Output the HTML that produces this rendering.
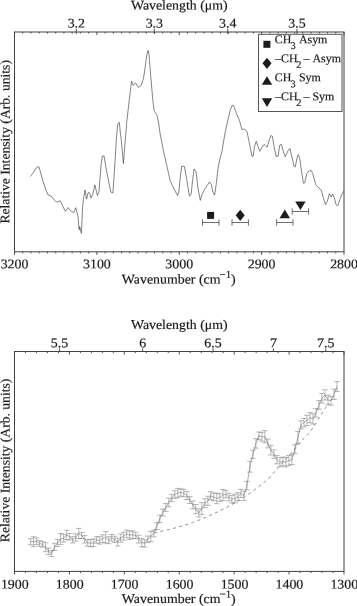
<!DOCTYPE html>
<html lang="en"><head><meta charset="utf-8"><title>Spectra</title>
<style>
html,body{margin:0;padding:0;background:#fff;}
body{width:357px;height:606px;overflow:hidden;font-family:"Liberation Serif",serif;}
svg{display:block;}
svg text{font-family:"Liberation Serif","Liberation Sans",serif;stroke:#1a1a1a;stroke-width:0.18px;}
</style></head><body>
<svg width="357" height="606" viewBox="0 0 357 606" font-size="13.2" fill="#1a1a1a">
<rect width="357" height="606" fill="#fff"/>
<rect x="14.5" y="32.0" width="329.5" height="219.8" fill="none" stroke="#404040" stroke-width="1"/>
<path d="M14.50 251.8v3.0M14.50 32.0v3.0M22.74 251.8v1.6M22.74 32.0v1.6M30.98 251.8v1.6M30.98 32.0v1.6M39.21 251.8v1.6M39.21 32.0v1.6M47.45 251.8v1.6M47.45 32.0v1.6M55.69 251.8v1.6M55.69 32.0v1.6M63.92 251.8v1.6M63.92 32.0v1.6M72.16 251.8v1.6M72.16 32.0v1.6M80.40 251.8v1.6M80.40 32.0v1.6M88.64 251.8v1.6M88.64 32.0v1.6M96.88 251.8v3.0M96.88 32.0v3.0M105.11 251.8v1.6M105.11 32.0v1.6M113.35 251.8v1.6M113.35 32.0v1.6M121.59 251.8v1.6M121.59 32.0v1.6M129.82 251.8v1.6M129.82 32.0v1.6M138.06 251.8v1.6M138.06 32.0v1.6M146.30 251.8v1.6M146.30 32.0v1.6M154.54 251.8v1.6M154.54 32.0v1.6M162.78 251.8v1.6M162.78 32.0v1.6M171.01 251.8v1.6M171.01 32.0v1.6M179.25 251.8v3.0M179.25 32.0v3.0M187.49 251.8v1.6M187.49 32.0v1.6M195.72 251.8v1.6M195.72 32.0v1.6M203.96 251.8v1.6M203.96 32.0v1.6M212.20 251.8v1.6M212.20 32.0v1.6M220.44 251.8v1.6M220.44 32.0v1.6M228.68 251.8v1.6M228.68 32.0v1.6M236.91 251.8v1.6M236.91 32.0v1.6M245.15 251.8v1.6M245.15 32.0v1.6M253.39 251.8v1.6M253.39 32.0v1.6M261.62 251.8v3.0M261.62 32.0v3.0M269.86 251.8v1.6M269.86 32.0v1.6M278.10 251.8v1.6M278.10 32.0v1.6M286.34 251.8v1.6M286.34 32.0v1.6M294.57 251.8v1.6M294.57 32.0v1.6M302.81 251.8v1.6M302.81 32.0v1.6M311.05 251.8v1.6M311.05 32.0v1.6M319.29 251.8v1.6M319.29 32.0v1.6M327.52 251.8v1.6M327.52 32.0v1.6M335.76 251.8v1.6M335.76 32.0v1.6M344.00 251.8v3.0M344.00 32.0v3.0M76.28 28.8v5.2M154.29 28.8v5.2M227.71 28.8v5.2M296.93 28.8v5.2" stroke="#404040" stroke-width="0.9" fill="none"/>
<path d="M30.1 176.6 L32.6 173.6 L36.0 168.2 L37.6 166.9 L39.0 166.9 L40.2 171.1 L42.7 180.3 L46.1 190.4 L48.2 195.1 L51.1 196.0 L53.6 199.2 L56.6 202.2 L60.3 200.8 L62.9 206.4 L65.4 211.4 L68.2 207.6 L70.4 210.6 L73.8 212.6 L75.8 207.7 L78.0 216.5 L79.2 229.9 L79.7 226.6 L81.4 233.3 L82.6 207.2 L83.4 199.7 L85.1 189.9 L86.5 199.2 L88.2 192.4 L89.8 193.4 L91.0 198.0 L92.7 194.6 L94.9 185.0 L97.4 195.5 L98.9 192.1 L101.1 165.2 L102.4 156.0 L104.1 156.0 L106.1 168.6 L110.8 192.1 L112.9 192.9 L114.5 170.3 L116.3 140.0 L117.6 124.9 L119.3 122.4 L120.5 134.1 L121.3 140.0 L123.4 163.5 L125.3 140.0 L126.9 120.7 L129.4 98.8 L131.6 81.2 L133.3 85.4 L135.6 82.9 L138.3 87.4 L141.2 85.4 L143.4 78.7 L145.0 68.6 L146.7 55.1 L148.1 50.4 L149.1 55.1 L150.4 71.9 L151.8 88.7 L153.4 105.5 L154.1 110.6 L157.1 115.6 L158.8 124.0 L160.1 133.7 L163.4 150.5 L166.8 165.6 L170.2 180.8 L174.3 189.5 L177.6 195.7 L178.8 192.0 L180.5 175.2 L181.8 166.0 L184.4 166.5 L186.9 180.3 L189.4 196.2 L191.1 194.5 L192.8 178.6 L194.1 168.8 L196.1 171.8 L197.8 187.0 L200.3 200.4 L202.0 194.5 L204.5 189.5 L207.1 185.6 L209.6 181.9 L211.3 184.5 L212.9 192.0 L214.6 195.0 L216.3 183.6 L218.0 168.5 L220.0 158.4 L221.8 152.2 L225.5 130.3 L230.2 110.2 L232.4 105.1 L233.5 105.5 L236.1 112.7 L239.4 120.3 L241.9 129.5 L244.5 129.0 L247.0 131.7 L249.5 143.8 L251.2 152.2 L252.0 156.4 L253.2 155.9 L254.5 146.3 L256.2 141.3 L257.9 146.3 L259.9 151.3 L262.1 147.0 L264.2 144.5 L267.1 147.3 L269.2 140.3 L270.9 135.6 L272.3 136.1 L274.3 147.9 L276.0 156.3 L278.0 156.3 L279.8 145.0 L281.5 144.5 L283.5 152.1 L285.2 156.8 L287.7 151.3 L289.9 148.4 L291.9 157.1 L294.1 166.4 L295.3 166.9 L297.0 158.0 L298.3 154.6 L299.8 158.8 L301.7 172.3 L303.4 183.2 L304.7 182.7 L306.7 173.9 L308.7 171.1 L311.3 170.6 L312.9 173.9 L315.6 184.2 L318.0 187.2 L321.4 190.3 L323.6 198.7 L325.6 204.6 L327.3 201.3 L329.4 193.7 L331.1 197.1 L332.6 194.0 L334.3 197.9 L336.0 204.6 L337.8 205.8 L339.9 199.6 L342.0 194.0 L343.8 191.2" fill="none" stroke="#303030" stroke-width="0.6" stroke-linejoin="round"/>
<text transform="translate(14.5 268.2) rotate(0.03) scale(1.051 1)" text-anchor="middle">3200</text>
<text transform="translate(96.9 268.2) rotate(0.03) scale(1.051 1)" text-anchor="middle">3100</text>
<text transform="translate(179.2 268.2) rotate(0.03) scale(1.051 1)" text-anchor="middle">3000</text>
<text transform="translate(261.6 268.2) rotate(0.03) scale(1.051 1)" text-anchor="middle">2900</text>
<text transform="translate(344.0 268.2) rotate(0.03) scale(1.051 1)" text-anchor="middle">2800</text>
<text transform="translate(76.3 27.5) rotate(0.03) scale(1.051 1)" text-anchor="middle">3.2</text>
<text transform="translate(154.3 27.5) rotate(0.03) scale(1.051 1)" text-anchor="middle">3.3</text>
<text transform="translate(227.7 27.5) rotate(0.03) scale(1.051 1)" text-anchor="middle">3.4</text>
<text transform="translate(296.9 27.5) rotate(0.03) scale(1.051 1)" text-anchor="middle">3.5</text>
<text transform="translate(179.3 9.5) rotate(0.03) scale(1.051 1)" text-anchor="middle">Wavelength (μm)</text>
<text transform="translate(178.8 283.5) rotate(0.03) scale(1.051 1)" text-anchor="middle">Wavenumber (cm<tspan font-size="10.4" dy="-5.7" dx="-0.9">−1</tspan><tspan dy="5.7">)</tspan></text>
<text transform="translate(9.4 141.8) rotate(-89.97) scale(1.034 1)" text-anchor="middle">Relative Intensity (Arb. units)</text>
<rect x="258.5" y="34.3" width="83.5" height="77.2" fill="#fff" stroke="#555" stroke-width="1"/>
<rect x="263.4" y="40.8" width="7.0" height="7.0" fill="#1c1c1c"/>
<path d="M267.0 57.7L271.5 63.3L267.0 68.9L262.5 63.3Z" fill="#1c1c1c"/>
<path d="M267.0 76.2L272.2 84.8L261.8 84.8Z" fill="#1c1c1c"/>
<path d="M261.8 98.3L272.2 98.3L267.0 106.9Z" fill="#1c1c1c"/>
<g font-size="11.9">
<text transform="translate(0 43.1) rotate(0.03) scale(1.004 1)"><tspan x="273.6">CH</tspan><tspan x="289.3" dy="5.8" font-size="10.3">3</tspan><tspan x="297.7" dy="-5.8">Asym</tspan></text>
<text transform="translate(0 62.0) rotate(0.03) scale(1.004 1)"><tspan x="274.0">–CH</tspan><tspan x="295.2" dy="5.8" font-size="10.3">2</tspan><tspan x="302.3" dy="-5.8">–</tspan><tspan x="311.2">Asym</tspan></text>
<text transform="translate(0 81.2) rotate(0.03) scale(1.004 1)"><tspan x="273.6">CH</tspan><tspan x="289.3" dy="5.8" font-size="10.3">3</tspan><tspan x="297.7" dy="-5.8">Sym</tspan></text>
<text transform="translate(0 100.0) rotate(0.03) scale(1.004 1)"><tspan x="274.0">–CH</tspan><tspan x="295.2" dy="5.8" font-size="10.3">2</tspan><tspan x="302.3" dy="-5.8">–</tspan><tspan x="311.2">Sym</tspan></text>
</g>
<path d="M202.5 222.5H218.9M202.5 219.3V225.7M218.9 219.3V225.7" stroke="#555" stroke-width="0.85" fill="none"/>
<rect x="207.1" y="211.9" width="7.0" height="7.0" fill="#1c1c1c"/>
<path d="M232.0 222.5H248.4M232.0 219.3V225.7M248.4 219.3V225.7" stroke="#555" stroke-width="0.85" fill="none"/>
<path d="M240.2 209.7L244.7 215.3L240.2 220.9L235.7 215.3Z" fill="#1c1c1c"/>
<path d="M276.6 222.5H293.0M276.6 219.3V225.7M293.0 219.3V225.7" stroke="#555" stroke-width="0.85" fill="none"/>
<path d="M284.8 209.6L290.0 218.2L279.6 218.2Z" fill="#1c1c1c"/>
<path d="M292.2 211.5H308.6M292.2 208.3V214.7M308.6 208.3V214.7" stroke="#555" stroke-width="0.85" fill="none"/>
<path d="M295.2 201.4L305.6 201.4L300.4 210.0Z" fill="#1c1c1c"/>
<rect x="14.5" y="351.5" width="329.5" height="219.9" fill="none" stroke="#404040" stroke-width="1"/>
<path d="M14.50 571.4v3.0M14.50 351.5v3.0M25.48 571.4v1.6M25.48 351.5v1.6M36.47 571.4v1.6M36.47 351.5v1.6M47.45 571.4v1.6M47.45 351.5v1.6M58.43 571.4v1.6M58.43 351.5v1.6M69.42 571.4v3.0M69.42 351.5v3.0M80.40 571.4v1.6M80.40 351.5v1.6M91.38 571.4v1.6M91.38 351.5v1.6M102.37 571.4v1.6M102.37 351.5v1.6M113.35 571.4v1.6M113.35 351.5v1.6M124.33 571.4v3.0M124.33 351.5v3.0M135.32 571.4v1.6M135.32 351.5v1.6M146.30 571.4v1.6M146.30 351.5v1.6M157.28 571.4v1.6M157.28 351.5v1.6M168.27 571.4v1.6M168.27 351.5v1.6M179.25 571.4v3.0M179.25 351.5v3.0M190.23 571.4v1.6M190.23 351.5v1.6M201.22 571.4v1.6M201.22 351.5v1.6M212.20 571.4v1.6M212.20 351.5v1.6M223.18 571.4v1.6M223.18 351.5v1.6M234.17 571.4v3.0M234.17 351.5v3.0M245.15 571.4v1.6M245.15 351.5v1.6M256.13 571.4v1.6M256.13 351.5v1.6M267.12 571.4v1.6M267.12 351.5v1.6M278.10 571.4v1.6M278.10 351.5v1.6M289.08 571.4v3.0M289.08 351.5v3.0M300.07 571.4v1.6M300.07 351.5v1.6M311.05 571.4v1.6M311.05 351.5v1.6M322.03 571.4v1.6M322.03 351.5v1.6M333.02 571.4v1.6M333.02 351.5v1.6M344.00 571.4v3.0M344.00 351.5v3.0M59.43 348.3v3.2M142.64 348.3v3.2M213.04 348.3v3.2M273.39 348.3v3.2M325.69 348.3v3.2" stroke="#404040" stroke-width="0.9" fill="none"/>
<path d="M30.6 538.6V544.8M27.8 538.6h5.6M27.8 544.8h5.6M33.6 536.7V546.7M30.8 536.7h5.6M30.8 546.7h5.6M36.6 538.0V544.6M33.8 538.0h5.6M33.8 544.6h5.6M39.6 540.6V546.2M36.8 540.6h5.6M36.8 546.2h5.6M42.6 541.6V547.2M39.8 541.6h5.6M39.8 547.2h5.6M45.6 542.8V551.7M42.8 542.8h5.6M42.8 551.7h5.6M48.6 548.0V554.5M45.8 548.0h5.6M45.8 554.5h5.6M51.6 550.7V556.6M48.8 550.7h5.6M48.8 556.6h5.6M54.6 543.2V550.3M51.8 543.2h5.6M51.8 550.3h5.6M57.6 539.6V546.5M54.8 539.6h5.6M54.8 546.5h5.6M60.6 533.5V544.5M57.8 533.5h5.6M57.8 544.5h5.6M63.6 534.4V542.0M60.8 534.4h5.6M60.8 542.0h5.6M66.6 530.3V539.6M63.8 530.3h5.6M63.8 539.6h5.6M69.7 533.5V539.9M66.9 533.5h5.6M66.9 539.9h5.6M72.7 536.7V543.0M69.9 536.7h5.6M69.9 543.0h5.6M75.7 533.8V541.1M72.9 533.8h5.6M72.9 541.1h5.6M78.7 528.4V538.7M75.9 528.4h5.6M75.9 538.7h5.6M81.7 532.5V538.5M78.9 532.5h5.6M78.9 538.5h5.6M84.7 535.6V543.0M81.9 535.6h5.6M81.9 543.0h5.6M87.7 539.4V546.1M84.9 539.4h5.6M84.9 546.1h5.6M90.7 539.7V546.7M87.9 539.7h5.6M87.9 546.7h5.6M93.7 538.9V546.7M90.9 538.9h5.6M90.9 546.7h5.6M96.7 536.7V543.3M93.9 536.7h5.6M93.9 543.3h5.6M99.7 536.8V544.1M96.9 536.8h5.6M96.9 544.1h5.6M102.7 534.8V542.5M99.9 534.8h5.6M99.9 542.5h5.6M105.7 531.6V543.1M102.9 531.6h5.6M102.9 543.1h5.6M108.7 536.7V543.7M105.9 536.7h5.6M105.9 543.7h5.6M111.7 534.5V541.0M108.9 534.5h5.6M108.9 541.0h5.6M114.7 536.2V542.5M111.9 536.2h5.6M111.9 542.5h5.6M117.7 538.1V546.0M114.9 538.1h5.6M114.9 546.0h5.6M120.7 534.0V542.2M117.9 534.0h5.6M117.9 542.2h5.6M123.7 532.2V540.1M120.9 532.2h5.6M120.9 540.1h5.6M126.7 530.1V537.7M123.9 530.1h5.6M123.9 537.7h5.6M129.7 531.1V539.4M126.9 531.1h5.6M126.9 539.4h5.6M132.7 530.9V538.4M129.9 530.9h5.6M129.9 538.4h5.6M135.7 532.2V538.8M132.9 532.2h5.6M132.9 538.8h5.6M138.7 535.1V543.0M135.9 535.1h5.6M135.9 543.0h5.6M141.7 538.4V546.7M138.9 538.4h5.6M138.9 546.7h5.6M144.7 539.7V547.0M141.9 539.7h5.6M141.9 547.0h5.6M147.8 536.0V542.6M145.0 536.0h5.6M145.0 542.6h5.6M150.8 531.4V541.6M148.0 531.4h5.6M148.0 541.6h5.6M153.8 530.2V536.9M151.0 530.2h5.6M151.0 536.9h5.6M156.8 522.7V529.6M154.0 522.7h5.6M154.0 529.6h5.6M159.8 515.2V522.7M157.0 515.2h5.6M157.0 522.7h5.6M162.8 509.1V515.9M160.0 509.1h5.6M160.0 515.9h5.6M165.8 503.4V511.3M163.0 503.4h5.6M163.0 511.3h5.6M168.8 498.2V506.8M166.0 498.2h5.6M166.0 506.8h5.6M171.8 494.3V501.7M169.0 494.3h5.6M169.0 501.7h5.6M174.8 490.8V498.4M172.0 490.8h5.6M172.0 498.4h5.6M177.8 488.4V497.4M175.0 488.4h5.6M175.0 497.4h5.6M180.8 489.0V496.2M178.0 489.0h5.6M178.0 496.2h5.6M183.8 489.3V496.7M181.0 489.3h5.6M181.0 496.7h5.6M186.8 491.4V499.6M184.0 491.4h5.6M184.0 499.6h5.6M189.8 496.6V503.5M187.0 496.6h5.6M187.0 503.5h5.6M192.8 501.0V508.8M190.0 501.0h5.6M190.0 508.8h5.6M195.8 504.5V513.6M193.0 504.5h5.6M193.0 513.6h5.6M198.8 508.8V517.0M196.0 508.8h5.6M196.0 517.0h5.6M201.8 502.6V514.4M199.0 502.6h5.6M199.0 514.4h5.6M204.8 498.7V507.8M202.0 498.7h5.6M202.0 507.8h5.6M207.8 496.2V505.3M205.0 496.2h5.6M205.0 505.3h5.6M210.8 491.8V499.9M208.0 491.8h5.6M208.0 499.9h5.6M213.8 493.2V500.7M211.0 493.2h5.6M211.0 500.7h5.6M216.8 493.2V503.7M214.0 493.2h5.6M214.0 503.7h5.6M219.8 493.7V501.4M217.0 493.7h5.6M217.0 501.4h5.6M222.9 489.5V500.7M220.1 489.5h5.6M220.1 500.7h5.6M225.9 490.6V497.9M223.1 490.6h5.6M223.1 497.9h5.6M228.9 493.2V500.8M226.1 493.2h5.6M226.1 500.8h5.6M231.9 495.6V503.0M229.1 495.6h5.6M229.1 503.0h5.6M234.9 494.2V502.9M232.1 494.2h5.6M232.1 502.9h5.6M237.9 492.7V500.7M235.1 492.7h5.6M235.1 500.7h5.6M240.9 489.3V497.5M238.1 489.3h5.6M238.1 497.5h5.6M243.9 491.2V500.6M241.1 491.2h5.6M241.1 500.6h5.6M246.9 481.3V489.9M244.1 481.3h5.6M244.1 489.9h5.6M249.9 461.2V472.1M247.1 461.2h5.6M247.1 472.1h5.6M252.9 450.1V458.4M250.1 450.1h5.6M250.1 458.4h5.6M255.9 438.7V448.1M253.1 438.7h5.6M253.1 448.1h5.6M258.9 432.0V439.7M256.1 432.0h5.6M256.1 439.7h5.6M261.9 432.4V441.2M259.1 432.4h5.6M259.1 441.2h5.6M264.9 430.7V442.8M262.1 430.7h5.6M262.1 442.8h5.6M267.9 439.0V447.9M265.1 439.0h5.6M265.1 447.9h5.6M270.9 445.3V455.0M268.1 445.3h5.6M268.1 455.0h5.6M273.9 449.9V458.3M271.1 449.9h5.6M271.1 458.3h5.6M276.9 455.6V463.8M274.1 455.6h5.6M274.1 463.8h5.6M279.9 457.7V466.7M277.1 457.7h5.6M277.1 466.7h5.6M282.9 457.2V465.8M280.1 457.2h5.6M280.1 465.8h5.6M285.9 457.3V467.0M283.1 457.3h5.6M283.1 467.0h5.6M288.9 455.6V465.4M286.1 455.6h5.6M286.1 465.4h5.6M291.9 454.8V464.5M289.1 454.8h5.6M289.1 464.5h5.6M294.9 444.8V453.3M292.1 444.8h5.6M292.1 453.3h5.6M297.9 431.4V443.4M295.1 431.4h5.6M295.1 443.4h5.6M301.0 420.8V428.9M298.2 420.8h5.6M298.2 428.9h5.6M304.0 418.4V427.0M301.2 418.4h5.6M301.2 427.0h5.6M307.0 415.3V425.5M304.2 415.3h5.6M304.2 425.5h5.6M310.0 412.6V422.8M307.2 412.6h5.6M307.2 422.8h5.6M313.0 413.8V424.1M310.2 413.8h5.6M310.2 424.1h5.6M316.0 408.6V417.2M313.2 408.6h5.6M313.2 417.2h5.6M319.0 400.6V409.3M316.2 400.6h5.6M316.2 409.3h5.6M322.0 393.4V403.1M319.2 393.4h5.6M319.2 403.1h5.6M325.0 389.8V400.0M322.2 389.8h5.6M322.2 400.0h5.6M328.0 395.1V404.8M325.2 395.1h5.6M325.2 404.8h5.6M331.0 396.6V405.1M328.2 396.6h5.6M328.2 405.1h5.6M334.0 389.2V399.5M331.2 389.2h5.6M331.2 399.5h5.6M337.0 381.6V391.6M334.2 381.6h5.6M334.2 391.6h5.6" stroke="#7c7c7c" stroke-width="0.55" fill="none"/>
<path d="M30.6 541.7 L33.6 541.7 L36.6 541.3 L39.6 543.4 L42.6 544.4 L45.6 547.2 L48.6 551.3 L51.6 553.7 L54.6 546.8 L57.6 543.1 L60.6 539.0 L63.6 538.2 L66.6 535.0 L69.7 536.7 L72.7 539.8 L75.7 537.4 L78.7 533.6 L81.7 535.5 L84.7 539.3 L87.7 542.8 L90.7 543.2 L93.7 542.8 L96.7 540.0 L99.7 540.5 L102.7 538.6 L105.7 537.4 L108.7 540.2 L111.7 537.8 L114.7 539.4 L117.7 542.0 L120.7 538.1 L123.7 536.2 L126.7 533.9 L129.7 535.2 L132.7 534.7 L135.7 535.5 L138.7 539.0 L141.7 542.6 L144.7 543.4 L147.8 539.3 L150.8 536.5 L153.8 533.5 L156.8 526.2 L159.8 519.0 L162.8 512.5 L165.8 507.3 L168.8 502.5 L171.8 498.0 L174.8 494.6 L177.8 492.9 L180.8 492.6 L183.8 493.0 L186.8 495.5 L189.8 500.0 L192.8 504.9 L195.8 509.1 L198.8 512.9 L201.8 508.5 L204.8 503.2 L207.8 500.8 L210.8 495.8 L213.8 497.0 L216.8 498.4 L219.8 497.5 L222.9 495.1 L225.9 494.3 L228.9 497.0 L231.9 499.3 L234.9 498.6 L237.9 496.7 L240.9 493.4 L243.9 495.9 L246.9 485.6 L249.9 466.7 L252.9 454.3 L255.9 443.4 L258.9 435.8 L261.9 436.8 L264.9 436.7 L267.9 443.4 L270.9 450.1 L273.9 454.1 L276.9 459.7 L279.9 462.2 L282.9 461.5 L285.9 462.1 L288.9 460.5 L291.9 459.7 L294.9 449.1 L297.9 437.4 L301.0 424.9 L304.0 422.7 L307.0 420.4 L310.0 417.7 L313.0 419.0 L316.0 412.9 L319.0 405.0 L322.0 398.2 L325.0 394.9 L328.0 399.9 L331.0 400.8 L334.0 394.4 L337.0 386.6" fill="none" stroke="#6a6a6a" stroke-width="0.55" stroke-linejoin="round"/>
<path d="M154.2 533.0 L173.1 528.5 L188.2 524.2 L192.6 522.6 L205.2 517.6 L217.8 511.8 L230.4 505.5 L243.0 497.9 L255.6 489.1 L268.2 479.0 L277.8 468.1 L290.4 454.2 L303.0 439.1 L309.3 433.0 L314.2 426.0 L320.0 416.6 L325.4 408.1 L328.8 403.2" fill="none" stroke="#7a7a7a" stroke-width="0.8" stroke-dasharray="3.2 3.2"/>
<text transform="translate(14.8 588.4) rotate(0.03) scale(1.051 1)" text-anchor="middle">1900</text>
<text transform="translate(69.7 588.4) rotate(0.03) scale(1.051 1)" text-anchor="middle">1800</text>
<text transform="translate(124.6 588.4) rotate(0.03) scale(1.051 1)" text-anchor="middle">1700</text>
<text transform="translate(179.6 588.4) rotate(0.03) scale(1.051 1)" text-anchor="middle">1600</text>
<text transform="translate(234.5 588.4) rotate(0.03) scale(1.051 1)" text-anchor="middle">1500</text>
<text transform="translate(289.4 588.4) rotate(0.03) scale(1.051 1)" text-anchor="middle">1400</text>
<text transform="translate(344.3 588.4) rotate(0.03) scale(1.051 1)" text-anchor="middle">1300</text>
<text transform="translate(59.4 347.3) rotate(0.03) scale(1.051 1)" text-anchor="middle">5.5</text>
<text transform="translate(142.6 347.3) rotate(0.03) scale(1.051 1)" text-anchor="middle">6</text>
<text transform="translate(213.0 347.3) rotate(0.03) scale(1.051 1)" text-anchor="middle">6.5</text>
<text transform="translate(273.4 347.3) rotate(0.03) scale(1.051 1)" text-anchor="middle">7</text>
<text transform="translate(325.7 347.3) rotate(0.03) scale(1.051 1)" text-anchor="middle">7.5</text>
<text transform="translate(179.3 328.9) rotate(0.03) scale(1.051 1)" text-anchor="middle">Wavelength (μm)</text>
<text transform="translate(178.8 603.1) rotate(0.03) scale(1.051 1)" text-anchor="middle">Wavenumber (cm<tspan font-size="10.4" dy="-5.7" dx="-0.9">−1</tspan><tspan dy="5.7">)</tspan></text>
<text transform="translate(9.4 460.4) rotate(-89.97) scale(1.034 1)" text-anchor="middle">Relative Intensity (Arb. units)</text>
</svg>
</body></html>
